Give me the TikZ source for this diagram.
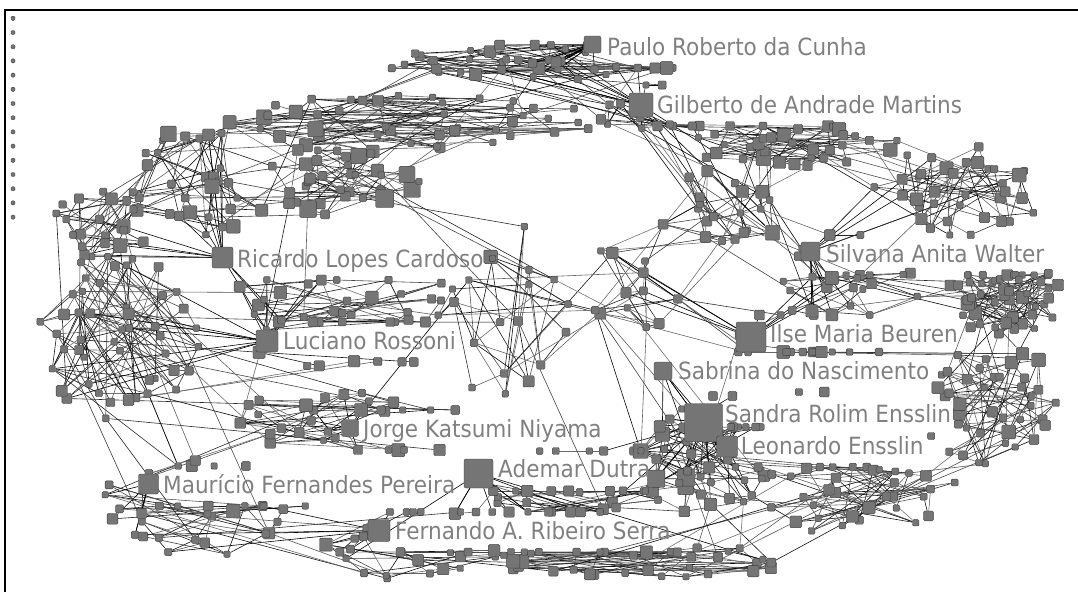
\documentclass[tikz,border=0pt]{standalone}
\usepackage{fontspec}
\setmainfont{DejaVu Sans}[FakeStretch=0.91]
\pgfdeclarelayer{ties}
\pgfsetlayers{ties,main}
\tikzset{
  actor/.style={rectangle, draw=black!76, fill=black!54, line width=0.4pt,
    rounded corners=1.2pt, inner sep=0pt},
  hub/.style={actor, rounded corners=2.2pt},
  isolate/.style={actor, minimum size=4pt},
  tie/.style={line width=0.6pt},
  author/.style={text=black!50, font=\fontsize{23.7}{26}\selectfont,
    inner sep=0pt, anchor=base west},
}
% cx/cy/rx/ry/count/spread of sizes
\def\groups{535/62/165/18/40/8, 650/112/55/22/14/9, 410/122/190/30/45/10,
  340/180/80/38/35/15, 200/185/70/60/30/12, 100/228/50/42/20/9,
  118/335/82/85/48/9, 340/315/130/55/38/11, 340/422/120/32/30/9,
  200/508/110/48/35/9, 415/545/100/35/30/9, 570/492/95/38/30/10,
  640/560/150/20/35/9, 705/458/72/58/45/12, 862/492/100/45/35/9,
  992/405/68/62/40/9, 1005/295/58/40/50/8, 845/282/80/42/25/10,
  960/192/88/48/35/9, 790/145/110/28/35/10, 725/212/65/45/20/9,
  505/315/70/95/20/9, 800/352/90/28/20/9, 630/295/55/55/12/8}
\def\labelboxes{599/37/868/59, 649/94/962/117, 229/249/483/271,
  818/244/1043/266, 275/331/458/353, 762/324/960/346, 670/361/927/383,
  717/405/952/427, 733/436/926/458, 355/419/607/441, 490/460/650/482,
  155/475/458/497, 387/521/673/543}
\newcommand\storexy[3]{%
  \expandafter\xdef\csname px@#1\endcsname{#2}%
  \expandafter\xdef\csname py@#1\endcsname{#3}}
\newcommand\hubnode[4]{%
  \node[hub, minimum size=#4pt] (#1) at (#2,#3) {};\storexy{#1}{#2}{#3}}
\newif\ifblocked
\newcommand\tryfree[2]{%
  \global\blockedfalse
  \edef\ax{\csname px@#1\endcsname}\edef\ay{\csname py@#1\endcsname}%
  \edef\bx{\csname px@#2\endcsname}\edef\by{\csname py@#2\endcsname}%
  \foreach \tt in {0.1,0.3,0.5,0.7,0.9} {%
    \pgfmathsetmacro\mx{\ax+\tt*(\bx-\ax)}%
    \pgfmathsetmacro\my{\ay+\tt*(\by-\ay)}%
    \foreach \lx/\ly/\rx/\ry in \labelboxes {%
      \ifdim\mx pt>\lx pt\ifdim\mx pt<\rx pt\ifdim\my pt>\ly pt%
        \ifdim\my pt<\ry pt\global\blockedtrue\fi\fi\fi\fi}}}
\newcommand\tie[3][]{%
  \tryfree{#2}{#3}\ifblocked\else\draw[tie,#1] (#2) -- (#3);\fi}
\begin{document}
\begin{tikzpicture}[x=1pt,y=-1pt]
  \useasboundingbox (0,0) rectangle (1078,592);
  \draw[line width=2pt] (5,592) -- (5,10) -- (1078,10);
  \foreach \i in {0,...,14}
    \node[isolate] (iso\i) at (13,{18.3+14.2*\i}) {};
  \pgfmathsetseed{4242}
  \foreach \cx/\cy/\rx/\ry/\n/\s [count=\k] in \groups {
    \expandafter\xdef\csname gsize\k\endcsname{\n}
    \foreach \i in {1,...,\n} {
      \pgfmathsetmacro\ang{360/\n*(\i+rnd)}
      \pgfmathsetmacro\rad{sqrt(rnd)}
      \pgfmathsetmacro\side{6.3+\s*rnd*rnd}
      \pgfmathsetmacro\px{\cx+\rx*\rad*cos(\ang)}
      \pgfmathsetmacro\py{\cy+\ry*\rad*sin(\ang)}
      \xdef\py{\py}
      \foreach \xa/\ya/\xb/\yb in \labelboxes {
        \pgfmathtruncatemacro\inside{(\px>\xa-5)&&(\px<\xb+5)&&(\py>\ya-7)&&(\py<\yb+7)}
        \ifnum\inside=1
          \pgfmathsetmacro\newy{(\py-\ya<\yb-\py) ? \ya-9 : \yb+9}
          \xdef\py{\newy}
        \fi
      }
      \node[actor, minimum size=\side pt] (g\k-\i) at (\px,\py) {};
      \storexy{g\k-\i}{\px}{\py}
    }
  }
  \hubnode{paulo}{592.5}{44.5}{17}
  \hubnode{gilberto}{641}{105}{24}
  \hubnode{ricardo}{222.5}{257.5}{21}
  \hubnode{silvana}{810.5}{251.5}{19}
  \hubnode{luciano}{267}{341}{22}
  \hubnode{ilse}{751}{337}{30}
  \hubnode{sabrina}{663}{371}{18}
  \hubnode{sandra}{703.5}{422.5}{38}
  \hubnode{leonardo}{727}{446.5}{21}
  \hubnode{jorge}{350}{428}{17}
  \hubnode{ademar}{478.5}{473.5}{29}
  \hubnode{mauricio}{148.5}{484}{20}
  \hubnode{fernando}{379}{530.5}{22}
  \begin{pgfonlayer}{ties}
    \foreach \cx/\cy/\rx/\ry/\n/\s [count=\k] in \groups {
      \foreach \i in {1,...,\n} {
        \pgfmathtruncatemacro\extra{rnd<0.65}
        \foreach \t in {0,...,\extra} {
          \pgfmathrandominteger{\r}{1}{\n-1}
          \pgfmathtruncatemacro\j{mod(\i+\r-1,\n)+1}
          \pgfmathtruncatemacro\shade{55+45*rnd}
          \tie[black!\shade]{g\k-\i}{g\k-\j}
        }
      }
    }
    \foreach \h/\k/\m in {paulo/1/18, gilberto/1/10, gilberto/2/12,
        gilberto/20/8, gilberto/21/6, ricardo/8/10, ricardo/5/8, ricardo/6/5,
        silvana/18/12, silvana/19/6, luciano/8/10, luciano/7/8, ilse/23/10,
        ilse/18/7, ilse/17/7, ilse/24/4, sabrina/14/10, sabrina/23/5,
        sandra/14/22, sandra/15/8, sandra/12/8, leonardo/14/10,
        leonardo/15/8, jorge/9/12, jorge/22/4, ademar/12/16, ademar/11/8,
        ademar/13/7, mauricio/10/12, mauricio/9/4, fernando/11/12,
        fernando/10/6} {
      \foreach \t in {1,...,\m} {
        \pgfmathrandominteger{\j}{1}{\csname gsize\k\endcsname}
        \tie{\h}{g\k-\j}
      }
    }
    \foreach \a/\b in {1/2, 1/3, 2/20, 3/4, 3/5, 4/5, 4/8, 5/6, 6/7, 7/8,
        7/9, 7/10, 8/9, 9/10, 9/11, 10/11, 11/12, 11/13, 12/13, 12/14, 13/14,
        13/15, 14/15, 14/23, 15/16, 16/17, 16/23, 17/18, 17/19, 18/19, 18/21,
        18/23, 19/20, 20/21, 21/2, 22/8, 22/12, 22/24, 22/4, 24/21, 24/23,
        24/14} {
      \foreach \t in {1,...,8} {
        \pgfmathrandominteger{\i}{1}{\csname gsize\a\endcsname}
        \pgfmathrandominteger{\j}{1}{\csname gsize\b\endcsname}
        \pgfmathtruncatemacro\shade{55+45*rnd}
        \tie[black!\shade]{g\a-\i}{g\b-\j}
      }
    }
  \end{pgfonlayer}
  \node[author] (paulo-name) at (607,55.7) {Paulo Roberto da Cunha};
  \node[author] (gilberto-name) at (657,113.3) {Gilberto de Andrade Martins};
  \node[author] (ricardo-name) at (237,267) {Ricardo Lopes Cardoso};
  \node[author] (silvana-name) at (826,262) {Silvana Anita Walter};
  \node[author] (luciano-name) at (283,349) {Luciano Rossoni};
  \node[author] (ilse-name) at (770,342) {Ilse Maria Beuren};
  \node[author] (sabrina-name) at (678,379) {Sabrina do Nascimento};
  \node[author] (sandra-name) at (725,422.7) {Sandra Rolim Ensslin};
  \node[author] (leonardo-name) at (740.7,454) {Leonardo Ensslin};
  \node[author] (jorge-name) at (363,437) {Jorge Katsumi Niyama};
  \node[author] (ademar-name) at (498,477.7) {Ademar Dutra};
  \node[author] (mauricio-name) at (163,493) {Maurício Fernandes Pereira};
  \node[author] (fernando-name) at (395,539) {Fernando A. Ribeiro Serra};
\end{tikzpicture}
\end{document}
